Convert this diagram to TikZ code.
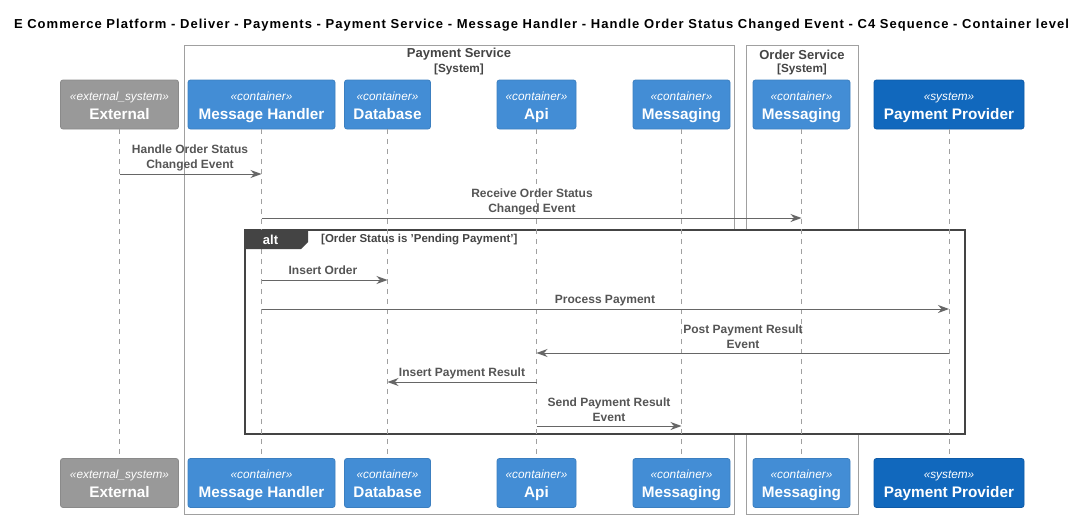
\documentclass[tikz,border=0pt]{standalone}
\usepackage{fontspec}
\setmainfont{Liberation Sans}
\newfontfamily\titlefont{Liberation Sans}[LetterSpace=8]
\usetikzlibrary{arrows.meta}
\definecolor{extfill}{HTML}{999999}
\definecolor{extline}{HTML}{8A8A8A}
\definecolor{confill}{HTML}{438DD5}
\definecolor{conline}{HTML}{3C7FC0}
\definecolor{sysfill}{HTML}{1168BD}
\definecolor{sysline}{HTML}{0E5AA7}
\definecolor{msgcol}{HTML}{666666}
\definecolor{lblcol}{HTML}{555555}
\definecolor{bndcol}{HTML}{A0A0A0}
\definecolor{altcol}{HTML}{444444}
\begin{document}
\begin{tikzpicture}[x=1pt,y=-1pt,
  part/.style={rectangle, rounded corners=2.5pt, minimum height=49pt, inner sep=0pt, line width=0.8pt},
  extp/.style={part, fill=extfill, draw=extline},
  conp/.style={part, fill=confill, draw=conline},
  sysp/.style={part, fill=sysfill, draw=sysline},
  stxt/.style={text=white, inner sep=0pt, anchor=base, font=\fontsize{11.8}{13}\selectfont\itshape},
  ntxt/.style={text=white, inner sep=0pt, anchor=base, font=\fontsize{15.3}{18}\selectfont\bfseries},
  lifeline/.style={draw=bndcol, line width=0.7pt, dash pattern=on 5pt off 5pt},
  msg/.style={draw=msgcol, line width=0.9pt, -{Stealth[length=11pt,width=8pt,inset=3.5pt]}},
  mlabel/.style={text=lblcol, font=\fontsize{12}{15}\selectfont\bfseries, align=center, inner sep=0pt},
  bnd/.style={draw=bndcol, line width=0.9pt},
  bndlabel/.style={text=altcol, font=\fontsize{13}{15}\selectfont\bfseries, align=center, inner sep=0pt},
]
\useasboundingbox (0,0) rectangle (1086,519);
% \partbox{name}{x}{y}{style}{width}{stereotype}{label}
\newcommand{\partbox}[7]{%
  \node[#4, minimum width=#5pt] (#1) at (#2,#3) {};
  \node[stxt] (#1-st) at ([yshift=4.2pt]#1.center) {«#6»};
  \node[ntxt] (#1-nm) at ([yshift=-14.8pt]#1.center) {#7};
}

% title
\node[font=\titlefont\fontsize{13}{16}\selectfont\bfseries, inner sep=0pt] (title) at (541.5,25)
  {E Commerce Platform - Deliver - Payments - Payment Service - Message Handler - Handle Order Status Changed Event - C4 Sequence - Container level};

% boundaries
\draw[bnd] (184,45.5) rectangle (734,514);
\draw[bnd] (746,45.5) rectangle (858,514);
\node[bndlabel] (psl) at (459,54.5) {Payment Service};
\node[bndlabel, font=\fontsize{11.8}{14}\selectfont\bfseries] (pss) at (459,69.5) {[System]};
\node[bndlabel] (osl) at (802,54.5) {Order Service};
\node[bndlabel, font=\fontsize{11.8}{14}\selectfont\bfseries] (oss) at (802,69.5) {[System]};

% participants top
\partbox{ext}{119.5}{104.5}{extp}{118}{external\_system}{External}
\partbox{mh}{261.5}{104.5}{conp}{147}{container}{Message Handler}
\partbox{db}{387.5}{104.5}{conp}{86}{container}{Database}
\partbox{api}{536.5}{104.5}{conp}{79}{container}{Api}
\partbox{msgq}{681.5}{104.5}{conp}{97}{container}{Messaging}
\partbox{omsg}{801.5}{104.5}{conp}{97}{container}{Messaging}
\partbox{pp}{949}{104.5}{sysp}{150}{system}{Payment Provider}

% participants bottom
\partbox{extb}{119.5}{483}{extp}{118}{external\_system}{External}
\partbox{mhb}{261.5}{483}{conp}{147}{container}{Message Handler}
\partbox{dbb}{387.5}{483}{conp}{86}{container}{Database}
\partbox{apib}{536.5}{483}{conp}{79}{container}{Api}
\partbox{msgqb}{681.5}{483}{conp}{97}{container}{Messaging}
\partbox{omsgb}{801.5}{483}{conp}{97}{container}{Messaging}
\partbox{ppb}{949}{483}{sysp}{150}{system}{Payment Provider}

% alt frame (white fill hides boundary lines)
\draw[draw=altcol, fill=white, line width=1.4pt] (245,230) rectangle (965,434);

% lifelines
\foreach \a/\b in {ext/extb, mh/mhb, db/dbb, api/apib, msgq/msgqb, omsg/omsgb, pp/ppb}
  \draw[lifeline] (\a.south) -- (\b.north);

% alt tab over lifelines
\fill[altcol] (245,230) -- (308,230) -- (308,242) -- (301,249) -- (245,249) -- cycle;
\node[text=white, font=\fontsize{13}{15}\selectfont\bfseries, inner sep=0pt] (altl) at (270.5,240) {alt};
\node[text=altcol, font=\fontsize{11.5}{13}\selectfont\bfseries, inner sep=0pt, anchor=west] (cond) at (321,240) {[Order Status is 'Pending Payment']};

% messages
\draw[msg] (ext.south |- 0,174) -- (mh.south |- 0,174);
\node[mlabel] at (190,157.5) {Handle Order Status\\Changed Event};

\draw[msg] (mh.south |- 0,218) -- (omsg.south |- 0,218);
\node[mlabel] at (532,201.5) {Receive Order Status\\Changed Event};

\draw[msg] (mh.south |- 0,280) -- (db.south |- 0,280);
\node[mlabel] at (323,270.5) {Insert Order};

\draw[msg] (mh.south |- 0,309) -- (pp.south |- 0,309);
\node[mlabel] at (605,300.5) {Process Payment};

\draw[msg] (pp.south |- 0,353) -- (api.south |- 0,353);
\node[mlabel] at (743,336.5) {Post Payment Result\\Event};

\draw[msg] (api.south |- 0,382) -- (db.south |- 0,382);
\node[mlabel] at (462,373.5) {Insert Payment Result};

\draw[msg] (api.south |- 0,426) -- (msgq.south |- 0,426);
\node[mlabel] at (609,409.5) {Send Payment Result\\Event};
\end{tikzpicture}
\end{document}
